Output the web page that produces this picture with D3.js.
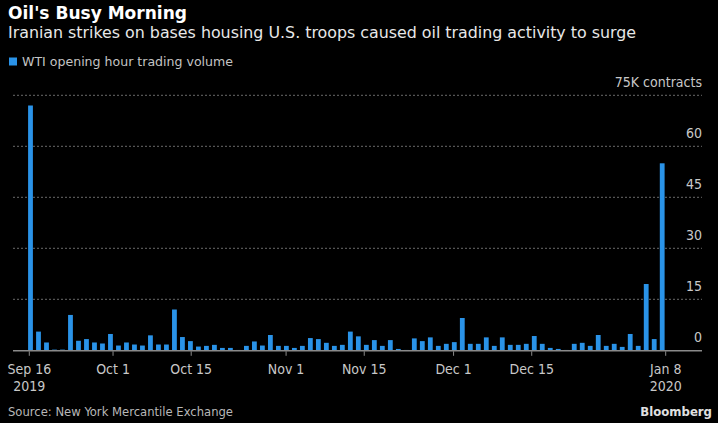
<!DOCTYPE html>
<html><head><meta charset="utf-8">
<script src="https://cdn.jsdelivr.net/npm/d3@7"></script>
<style>html,body{margin:0;background:#000;} svg{display:block}</style>
</head><body>
<svg id="c" width="718" height="423"></svg>
<script>
// ---- data ----
const dates = [
 "2019-09-16","2019-09-17","2019-09-18","2019-09-19","2019-09-20","2019-09-23","2019-09-24","2019-09-25","2019-09-26","2019-09-27","2019-09-30",
 "2019-10-01","2019-10-02","2019-10-03","2019-10-04","2019-10-07","2019-10-08","2019-10-09","2019-10-10","2019-10-11","2019-10-14","2019-10-15","2019-10-16","2019-10-17","2019-10-18","2019-10-21","2019-10-22","2019-10-23","2019-10-24","2019-10-25","2019-10-28","2019-10-29","2019-10-30","2019-10-31",
 "2019-11-01","2019-11-04","2019-11-05","2019-11-06","2019-11-07","2019-11-08","2019-11-11","2019-11-12","2019-11-13","2019-11-14","2019-11-15","2019-11-18","2019-11-19","2019-11-20","2019-11-21","2019-11-22","2019-11-25","2019-11-26","2019-11-27","2019-11-29",
 "2019-12-02","2019-12-03","2019-12-04","2019-12-05","2019-12-06","2019-12-09","2019-12-10","2019-12-11","2019-12-12","2019-12-13","2019-12-16","2019-12-17","2019-12-18","2019-12-19","2019-12-20","2019-12-23","2019-12-24","2019-12-26","2019-12-27","2019-12-30","2019-12-31",
 "2020-01-02","2020-01-03","2020-01-06","2020-01-07","2020-01-08"
];
const volume = [
 72, 5.5, 2.3, 0.2, 0.2, 10.4, 2.8, 3.3, 2.3, 2.0, 4.8,
 1.4, 2.3, 1.7, 1.4, 4.4, 1.7, 1.7, 12.0, 3.9, 2.7, 1.1, 1.3, 1.6, 0.7, 0.7, 0.1, 1.3, 2.6, 1.4, 4.5, 1.3, 1.3, 0.7,
 1.3, 3.6, 3.3, 2.2, 1.3, 1.6, 5.5, 4.1, 1.6, 3.0, 1.3, 3.0, 0.4, 0.1, 3.5, 2.7, 3.8, 1.3, 1.9, 2.4,
 9.5, 1.9, 1.9, 3.8, 1.3, 3.8, 1.6, 1.6, 1.9, 4.2, 1.9, 0.7, 0.4, 0.1, 1.9, 2.2, 1.3, 4.5, 1.3, 1.9, 1.0,
 4.8, 1.3, 19.5, 3.3, 55
];
const yTicks = [0, 15, 30, 45, 60, 75];
const xTickDates = ["2019-09-16","2019-10-01","2019-10-15","2019-11-01","2019-11-15","2019-12-01","2019-12-15","2020-01-08"];
const xTickLabels = [["Sep 16","2019"],["Oct 1"],["Oct 15"],["Nov 1"],["Nov 15"],["Dec 1"],["Dec 15"],["Jan 8","2020"]];
const seriesName = "WTI opening hour trading volume";
const title = "Oil's Busy Morning";
const subtitle = "Iranian strikes on bases housing U.S. troops caused oil trading activity to surge";
const source = "Source: New York Mercantile Exchange";

// ---- layout ----
const FONT = "'Liberation Sans Narrow','DejaVu Sans Condensed','Roboto Condensed',Roboto,sans-serif";
const BLUE = "#2a93e8";
const svg = d3.select("#c").style("font-family", FONT);
svg.append("rect").attr("width",718).attr("height",423).attr("fill","#000");

const gridL = 13, gridR = 702;
const parse = d3.timeParse("%Y-%m-%d");

const y = d3.scaleLinear().domain([0, 75]).range([350.3, 95.3]);
const x = d3.scaleBand().domain(dates).range([26.5, 666.2]).paddingInner(0.4).paddingOuter(0.2);
const xt = d3.scaleTime().domain([parse(xTickDates[0]), parse(xTickDates[xTickDates.length-1])]).range([29.3, 665.7]);

// titles
svg.append("text").attr("x",8).attr("y",19).attr("fill","#fff")
  .attr("font-size",18).attr("font-weight","bold")
  .attr("textLength",179).attr("lengthAdjust","spacingAndGlyphs").text(title);
svg.append("text").attr("x",8).attr("y",38).attr("fill","#e8e8e8")
  .attr("font-size",16)
  .attr("textLength",628).attr("lengthAdjust","spacingAndGlyphs").text(subtitle);

// legend
svg.append("rect").attr("x",9).attr("y",57.5).attr("width",8).attr("height",8).attr("fill",BLUE);
svg.append("text").attr("x",22).attr("y",66).attr("fill","#c4c4c4")
  .attr("font-size",13)
  .attr("textLength",211).attr("lengthAdjust","spacingAndGlyphs").text(seriesName);

// gridlines
const g = svg.append("g");
g.selectAll("line.grid").data(yTicks.filter(d => d > 0)).join("line")
  .attr("class","grid")
  .attr("x1",gridL).attr("x2",gridR)
  .attr("y1",d => y(d)).attr("y2",d => y(d))
  .attr("stroke","#6a6a6a").attr("stroke-width",1).attr("stroke-dasharray","2,2");

// y labels
g.selectAll("text.ylab").data(yTicks).join("text")
  .attr("class","ylab")
  .attr("x",gridR).attr("text-anchor","end")
  .attr("y",d => d === 0 ? y(d) - 8 : y(d) - 8.5)
  .attr("fill","#c8c8c8").attr("font-size",14)
  .text(d => d === 75 ? "75K contracts" : d);

// bars
g.selectAll("rect.bar").data(dates.map((d,i)=>({d, v: volume[i]}))).join("rect")
  .attr("class","bar")
  .attr("x",d => x(d.d)).attr("width",x.bandwidth())
  .attr("y",d => y(d.v)).attr("height",d => Math.max(0, y(0) - y(d.v)))
  .attr("fill",BLUE);

// baseline
g.append("line").attr("x1",gridL).attr("x2",gridR).attr("y1",y(0)+0.5).attr("y2",y(0)+0.5)
  .attr("stroke","#8a8a8a").attr("stroke-width",1.5);

// x ticks
const tk = g.selectAll("g.xt").data(xTickDates.map((d,i)=>({d: parse(d), lab: xTickLabels[i]}))).join("g")
  .attr("class","xt").attr("transform",d => `translate(${xt(d.d)},0)`);
tk.append("line").attr("y1",y(0)+1).attr("y2",y(0)+5.5).attr("stroke","#8a8a8a").attr("stroke-width",1);
tk.each(function(d){
  const s = d3.select(this);
  d.lab.forEach((t,j) => {
    s.append("text").attr("text-anchor","middle").attr("y",373.5 + j*17.5)
      .attr("fill","#c8c8c8").attr("font-size",14).text(t);
  });
});

// footer
svg.append("text").attr("x",8).attr("y",416).attr("fill","#b8b8b8")
  .attr("font-size",13)
  .attr("textLength",225).attr("lengthAdjust","spacingAndGlyphs").text(source);
svg.append("text").attr("x",712).attr("y",416).attr("text-anchor","end").attr("fill","#e0e0e0")
  .attr("font-size",13).attr("font-weight","bold").text("Bloomberg");
</script>
</body></html>
